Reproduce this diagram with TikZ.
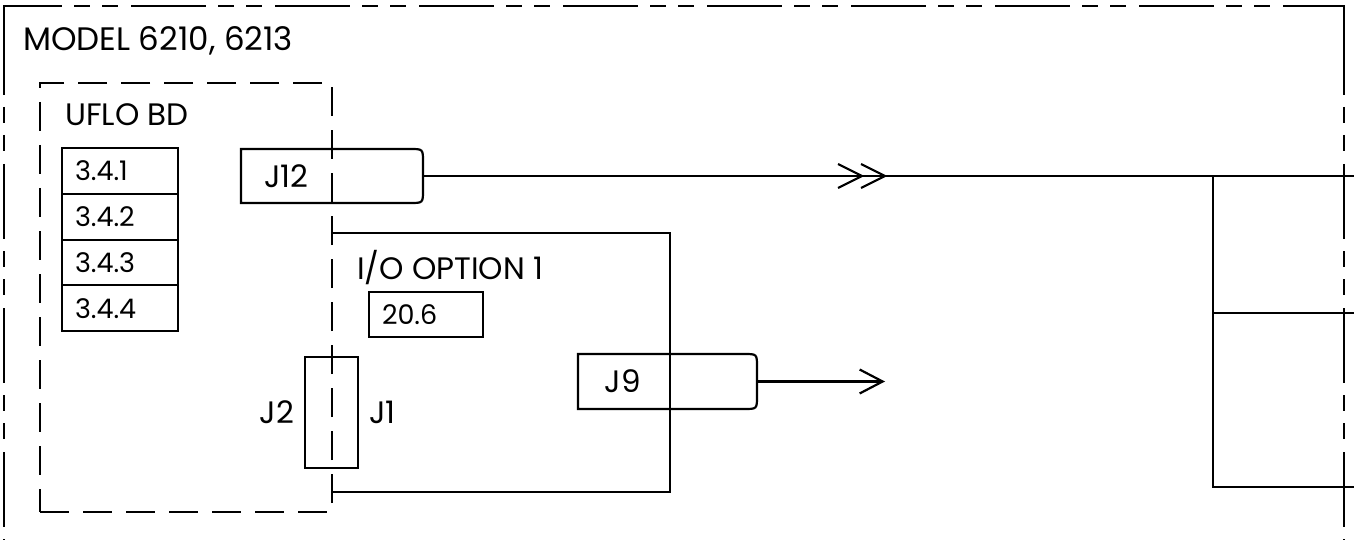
\documentclass[tikz,border=0pt]{standalone}
\usepackage{fontspec}
\setmainfont{Poppins}
\usetikzlibrary{arrows.meta,calc}
\newcommand\jboxoutline[2]{%
  \draw (#1.north west) -- ($(#1.north east)+(-#2,0)$) .. controls (#1.north east) .. ($(#1.north east)+(0,#2)$)
    -- ($(#1.south east)+(0,-#2)$) .. controls (#1.south east) .. ($(#1.south east)+(-#2,0)$)
    -- (#1.south west) -- cycle;}
\begin{document}
\begin{tikzpicture}[x=1pt,y=-1pt,line width=2.2pt,
  framedash/.style={dash pattern=on 75pt off 12pt on 16pt off 12pt on 16pt off 13pt},
  boarddash/.style={dash pattern=on 29pt off 14pt},
  lbl/.style={font=\fontsize{31}{34}\selectfont,inner sep=0pt},
  cell/.style={draw,font=\fontsize{27}{29}\selectfont,minimum height=45.75pt,text width=90pt,
    inner xsep=13pt,inner ysep=0pt,align=left,outer sep=0pt},
  conn/.style={inner sep=0pt,outer sep=0pt},
  plainbox/.style={draw,inner sep=0pt,outer sep=0pt}
]
\useasboundingbox (0,0) rectangle (1354,540);
% outer frame
\coordinate (tl) at (4,6);
\coordinate (tr) at (1344,6);
\coordinate (tlx) at (62,6);
\coordinate (trx) at (1285,6);
\coordinate (ls) at (4,95);
\coordinate (rs) at (1344,95);
\coordinate (bl) at (4,540);
\coordinate (br) at (1344,540);
\draw (ls) -- (tl) -- (tlx);
\draw[framedash,dash phase=75pt] (tlx) -- (trx);
\draw (trx) -- (tr) -- (rs);
\draw[framedash,dash phase=75pt] (ls) -- (bl);
\draw[framedash,dash phase=75pt] (rs) -- (br);
\node[lbl,font=\fontsize{32.5}{35}\selectfont,anchor=base west] (model) at (22,51) {MODEL 6210, 6213};

% UFLO board
\node[draw,boarddash,minimum width=292pt,minimum height=429pt,outer sep=0pt,inner sep=0pt] (uflo) at (186,297.5) {};
\node[lbl,anchor=base west] (uflolbl) at (64,126) {UFLO BD};
\node[cell] (t1) at (120,171.0) {3.4.1};
\node[cell] (t2) at (120,216.75) {3.4.2};
\node[cell] (t3) at (120,262.5) {3.4.3};
\node[cell] (t4) at (120,308.25) {3.4.4};

% I/O option 1
\coordinate (ioTL) at (332,233);
\coordinate (ioTR) at (670,233);
\coordinate (ioBR) at (670,492);
\coordinate (ioBL) at (332,492);
\draw (ioTL) -- (ioTR) -- (ioBR) -- (ioBL);
\node[lbl,anchor=base west] (iolbl) at (356,279) {I/O OPTION 1};
\node[cell,text width=88pt,minimum height=45pt] (c206) at (426,314.5) {20.6};

% J12 connector
\node[conn,minimum width=182pt,minimum height=54pt] (J12) at (332,176) {};
\jboxoutline{J12}{13}
\node[lbl] (J12lbl) at ($(J12.west)!0.5!(J12.center)$) {J12};

% J9 connector
\node[conn,minimum width=179pt,minimum height=55pt] (J9) at (667.5,381.5) {};
\jboxoutline{J9}{13}
\node[lbl] (J9lbl) at ($(J9.west)!0.5!(J9.center)$) {J9};

% J2/J1
\node[plainbox,minimum width=53pt,minimum height=111pt] (J21) at (331.5,412.5) {};
\node[lbl,anchor=east] (J2lbl) at ($(J21.west)+(-10,0)$) {J2};
\node[lbl,anchor=west] (J1lbl) at ($(J21.east)+(10,0)$) {J1};

% J12 line with double chevron
\coordinate (j12end) at (1354,176);
\draw (J12.east) -- (j12end);
\coordinate (chevA) at (862,176);
\coordinate (chevB) at (885,176);
\draw ($(chevA)+(-24,-12)$) -- (chevA) -- ($(chevA)+(-24,12)$);
\draw ($(chevB)+(-24,-12)$) -- (chevB) -- ($(chevB)+(-24,12)$);

% J9 arrow
\coordinate (j9end) at (885,381.5);
\draw[-{Straight Barb[length=23pt,width=24pt]}] (J9.east) -- (j9end);

% right-hand bus
\coordinate (bus1) at (1213,176);
\coordinate (bus2) at (1213,313);
\coordinate (bus3) at (1213,487);
\coordinate (e2) at (1354,313);
\coordinate (e3) at (1354,487);
\draw (bus1) -- (bus3) -- (e3);
\draw (bus2) -- (e2);
\end{tikzpicture}
\end{document}
